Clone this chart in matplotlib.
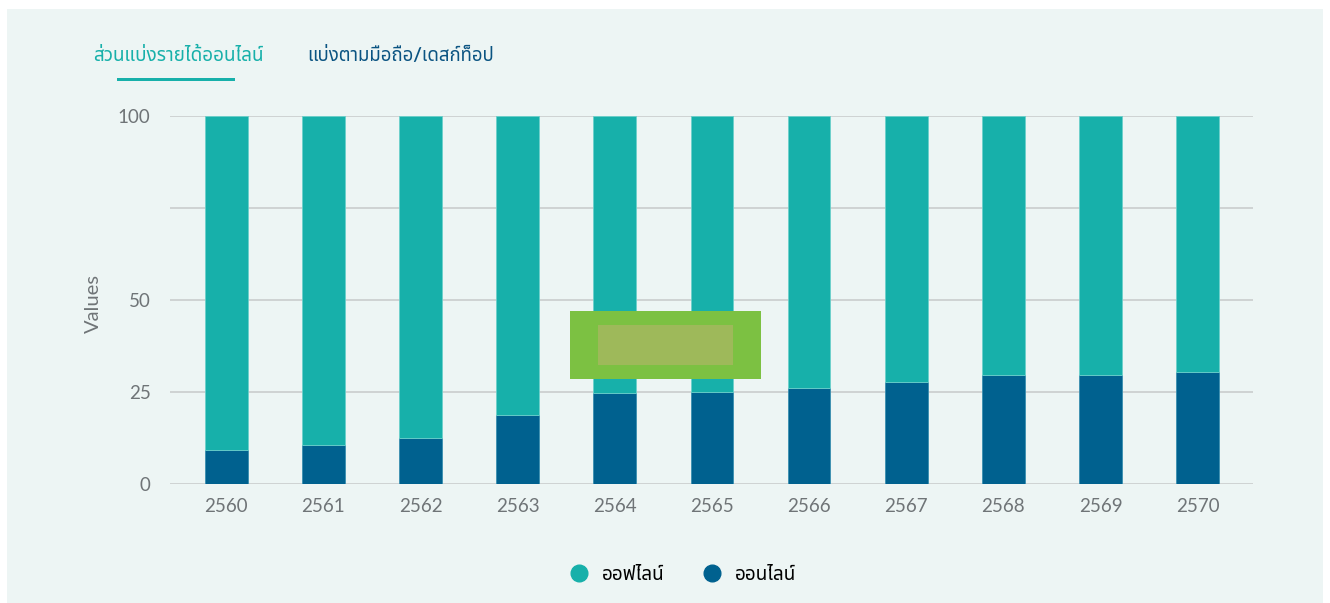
import matplotlib
matplotlib.use("Agg")
import matplotlib.pyplot as plt
from matplotlib.patches import Rectangle
from matplotlib.font_manager import fontManager

# ข้อมูล
years = ["2560", "2561", "2562", "2563", "2564", "2565",
         "2566", "2567", "2568", "2569", "2570"]
online = [9.3, 10.6, 12.4, 18.7, 24.7, 24.9, 26.1, 27.6, 29.7, 29.7, 30.3]
offline = [100 - v for v in online]
y_ticks = [0, 25, 50, 75, 100]
y_tick_labels = ["0", "25", "50", "", "100"]

bg = "#edf5f4"
c_off = "#17b0aa"
c_on = "#00618f"
grey = "#6f7477"

names = {f.name for f in fontManager.ttflist}
thai = [f for f in ["Noto Sans Thai", "Noto Sans Thai UI", "Loma", "Garuda",
                    "Tlwg Typist", "Norasi", "Waree", "Sarabun", "Kinnari"]
        if f in names]
plt.rcParams["font.family"] = ["Lato"] + thai + ["DejaVu Sans"]

fig = plt.figure(figsize=(13.3, 6.03), dpi=100)
fig.patch.set_facecolor("white")
fig.patches.append(Rectangle((7 / 1330, 0), 1316 / 1330, 594 / 603,
                             transform=fig.transFigure, facecolor=bg,
                             edgecolor="none", zorder=-10))

ax = fig.add_axes([170 / 1330, 1 - 484 / 603, 1083 / 1330, 368 / 603])
ax.set_facecolor("none")
x = range(len(years))
ax.bar(x, online, width=0.44, color=c_on, edgecolor="#3a8fb0", linewidth=0.6, zorder=3)
ax.bar(x, offline, width=0.44, bottom=online, color=c_off, edgecolor="#6cd0cb",
       linewidth=0.6, zorder=3)

ax.set_xlim(-0.58, len(years) - 0.43)
ax.set_ylim(0, 100)
ax.set_yticks(y_ticks)
ax.set_yticklabels(y_tick_labels)
ax.set_xticks(list(x))
ax.set_xticklabels(years)
ax.grid(axis="y", color="#c6c9ca", linewidth=1.1, zorder=0)
ax.set_axisbelow(True)
for s in ax.spines.values():
    s.set_visible(False)
ax.tick_params(length=0, labelsize=13.5, labelcolor=grey)
ax.tick_params(axis="y", pad=14)
ax.tick_params(axis="x", pad=10)
ax.set_ylabel("Values", fontsize=14.5, color=grey)
ax.yaxis.set_label_coords(-(170 - 102) / 1083, 0.49)

# แท็บด้านบน
fig.text(93 / 1330, 1 - 55 / 603, "ส่วนแบ่งรายได้ออนไลน์", color=c_off,
         fontsize=13.6, fontweight="bold", va="center", ha="left")
fig.text(307 / 1330, 1 - 55 / 603, "แบ่งตามมือถือ/เดสก์ท็อป", color="#0b5482",
         fontsize=13.4, fontweight="bold", va="center", ha="left")
fig.patches.append(Rectangle((117 / 1330, 1 - 81 / 603), 118 / 1330, 2.5 / 603,
                             transform=fig.transFigure, facecolor=c_off,
                             edgecolor="none"))

# กล่องสีเขียว
fig.patches.append(Rectangle((570 / 1330, 1 - 379 / 603), 191 / 1330, 68 / 603,
                             transform=fig.transFigure, facecolor="#7cc142",
                             edgecolor="none", zorder=5))
fig.patches.append(Rectangle((598 / 1330, 1 - 365 / 603), 135 / 1330, 40 / 603,
                             transform=fig.transFigure, facecolor="#9eb95a",
                             edgecolor="none", zorder=6))

# คำอธิบาย
fig.legend(handles=[
    plt.Line2D([], [], marker="o", linestyle="none", markersize=12,
               color=c_off, label="ออฟไลน์"),
    plt.Line2D([], [], marker="o", linestyle="none", markersize=12,
               color=c_on, label="ออนไลน์")],
    loc="center", bbox_to_anchor=(680 / 1330, 1 - 574 / 603), ncol=2,
    frameon=False, fontsize=13.6, handletextpad=0.4, handlelength=1.6,
    columnspacing=1.7)

fig.savefig("out.png", dpi=100, facecolor="white")
